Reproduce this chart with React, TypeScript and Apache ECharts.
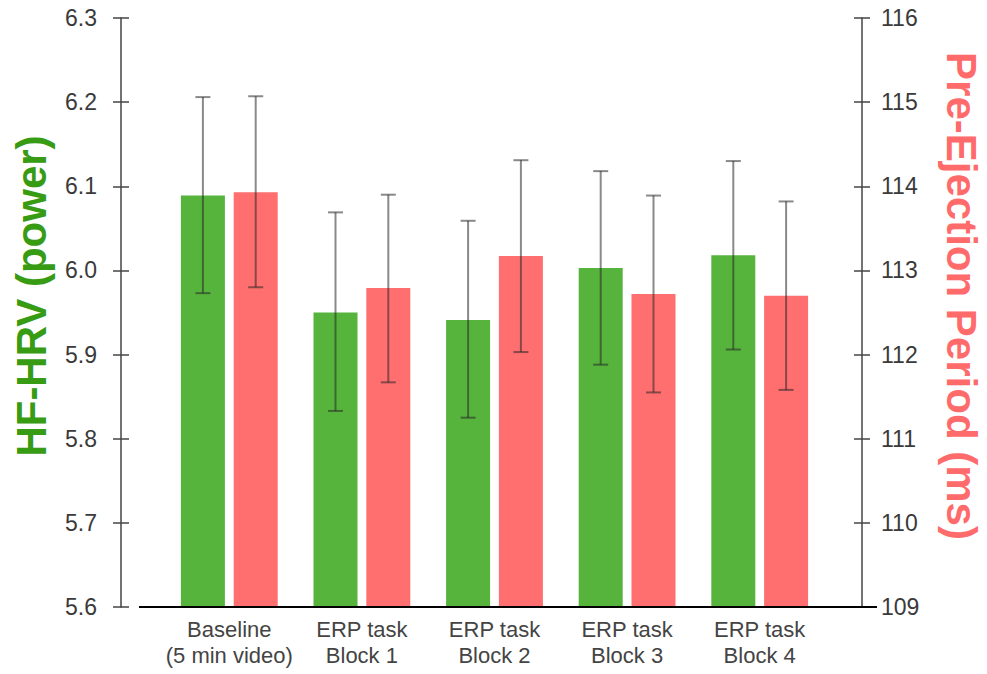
import React, { useEffect, useRef } from "react";
import * as echarts from "echarts";

const categories = [
  "Baseline\n(5 min video)",
  "ERP task\nBlock 1",
  "ERP task\nBlock 2",
  "ERP task\nBlock 3",
  "ERP task\nBlock 4",
];

// HF-HRV (power), left axis
const hfMean = [6.089, 5.95, 5.941, 6.003, 6.018];
const hfLow = [5.973, 5.833, 5.825, 5.888, 5.906];
const hfHigh = [6.206, 6.069, 6.059, 6.118, 6.13];

// Pre-Ejection Period (ms), right axis
const pepMean = [113.93, 112.79, 113.17, 112.72, 112.7];
const pepLow = [112.8, 111.67, 112.03, 111.55, 111.58];
const pepHigh = [115.07, 113.9, 114.31, 113.89, 113.82];

const leftTicks = { min: 5.6, max: 6.3, interval: 0.1 };
const rightTicks = { min: 109, max: 116, interval: 1 };

const FONT = '"Liberation Sans", Arial, Helvetica, sans-serif';
const GREEN = "#56b43c";
const RED = "#ff6f6f";
const BAR_W = 44;
const BAR_GAP = 0.2;
const HALF_OFFSET = (BAR_W + BAR_W * BAR_GAP) / 2;

function errorSeries(low: number[], high: number[], yAxisIndex: number, offset: number) {
  return {
    type: "custom",
    xAxisIndex: 0,
    yAxisIndex,
    z: 5,
    silent: true,
    data: low.map((l, i) => [i, l, high[i]]),
    encode: { x: 0, y: [1, 2] },
    renderItem: (params: any, api: any) => {
      const idx = api.value(0);
      const pLo = api.coord([idx, api.value(1)]);
      const pHi = api.coord([idx, api.value(2)]);
      const x = pLo[0] + offset;
      const cap = 7.5;
      const style = { stroke: "rgba(40,40,40,0.55)", lineWidth: 2 };
      return {
        type: "group",
        children: [
          { type: "line", shape: { x1: x, y1: pLo[1], x2: x, y2: pHi[1] }, style },
          { type: "line", shape: { x1: x - cap, y1: pHi[1], x2: x + cap, y2: pHi[1] }, style },
          { type: "line", shape: { x1: x - cap, y1: pLo[1], x2: x + cap, y2: pLo[1] }, style },
        ],
      };
    },
  };
}

export default function App() {
  const ref = useRef<HTMLDivElement>(null);
  useEffect(() => {
    if (!ref.current) return;
    const chart = echarts.init(ref.current, null, { renderer: "svg" });
    const axisLine = { show: true, lineStyle: { color: "#444", width: 1.5 } };
    const tickStyle = { color: "#444", width: 1.5 };
    const labelStyle = { color: "#3a3a3a", fontSize: 23, fontFamily: FONT };
    chart.setOption({
      animation: false,
      backgroundColor: "#ffffff",
      grid: { left: 163, right: 161, top: 18, bottom: 67, containLabel: false },
      xAxis: {
        type: "category",
        data: categories,
        axisLine: { show: false },
        axisTick: { show: false },
        axisLabel: {
          color: "#444",
          fontSize: 22,
          fontFamily: FONT,
          lineHeight: 26,
          margin: 9,
          interval: 0,
        },
      },
      yAxis: [
        {
          type: "value",
          position: "left",
          offset: 42,
          ...leftTicks,
          axisLine,
          axisTick: { show: true, inside: false, length: 8, lineStyle: tickStyle },
          axisLabel: { ...labelStyle, margin: 24, formatter: (v: number) => v.toFixed(1) },
          splitLine: { show: false },
        },
        {
          type: "value",
          position: "right",
          offset: 36,
          ...rightTicks,
          axisLine,
          axisTick: { show: true, inside: false, length: 8, lineStyle: tickStyle },
          axisLabel: { ...labelStyle, margin: 19, formatter: (v: number) => String(v) },
          splitLine: { show: false },
        },
        {
          type: "value",
          position: "left",
          offset: 42,
          ...leftTicks,
          axisLine: { show: false },
          axisTick: { show: true, inside: true, length: 8, lineStyle: tickStyle },
          axisLabel: { show: false },
          splitLine: { show: false },
        },
        {
          type: "value",
          position: "right",
          offset: 36,
          ...rightTicks,
          axisLine: { show: false },
          axisTick: { show: true, inside: true, length: 8, lineStyle: tickStyle },
          axisLabel: { show: false },
          splitLine: { show: false },
        },
      ],
      series: [
        {
          name: "HF-HRV",
          type: "bar",
          yAxisIndex: 0,
          data: hfMean,
          barWidth: BAR_W,
          barGap: BAR_GAP * 100 + "%",
          itemStyle: { color: GREEN },
          z: 2,
        },
        {
          name: "Pre-Ejection Period",
          type: "bar",
          yAxisIndex: 1,
          data: pepMean,
          barWidth: BAR_W,
          barGap: BAR_GAP * 100 + "%",
          itemStyle: { color: RED },
          z: 2,
        },
        errorSeries(hfLow, hfHigh, 0, -HALF_OFFSET),
        errorSeries(pepLow, pepHigh, 1, HALF_OFFSET),
      ],
      graphic: [
        {
          type: "line",
          z: 10,
          shape: { x1: 139, y1: 607, x2: 877, y2: 607 },
          style: { stroke: "#000", lineWidth: 2 },
        },
        {
          type: "text",
          x: 31,
          y: 296,
          rotation: Math.PI / 2,
          style: {
            text: "HF-HRV (power)",
            fill: "#379b14",
            font: `bold 42px ${FONT}`,
            align: "center",
            verticalAlign: "middle",
          },
        },
        {
          type: "text",
          x: 961,
          y: 296,
          rotation: -Math.PI / 2,
          style: {
            text: "Pre-Ejection Period (ms)",
            fill: "#ff6b6b",
            font: `bold 42px ${FONT}`,
            align: "center",
            verticalAlign: "middle",
          },
        },
      ],
    });
    return () => chart.dispose();
  }, []);
  return (
    <div
      ref={ref}
      style={{ position: "fixed", left: 0, top: 0, width: 987, height: 674, background: "#fff" }}
    />
  );
}
